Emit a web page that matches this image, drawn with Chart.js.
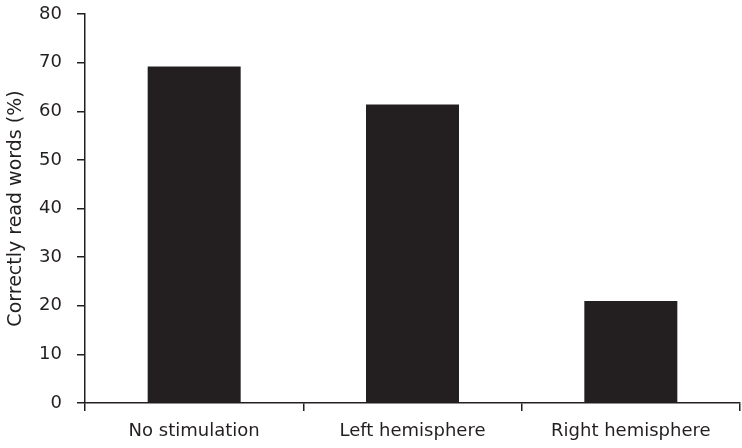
<!DOCTYPE html>
<html>
<head>
<meta charset="utf-8">
<script src="https://cdn.jsdelivr.net/npm/chart.js@4.4.1/dist/chart.umd.min.js"></script>
<style>
  html, body { margin: 0; padding: 0; background: #ffffff; }
  #wrap { width: 742px; height: 448px; }
</style>
</head>
<body>
<div id="wrap"><canvas id="chart" width="742" height="448"></canvas></div>
<script>
// Reading conditions and percentage of words read correctly
const categories = ['No stimulation', 'Left hemisphere', 'Right hemisphere'];
const correctlyRead = [69.2, 61.4, 21.0];
const yTicks = { min: 0, max: 80, step: 10 };
const yTitle = 'Correctly read words (%)';

const ink = '#231f20';
const lineW = 1.5;

new Chart(document.getElementById('chart'), {
  type: 'bar',
  data: {
    labels: categories,
    datasets: [{
      data: correctlyRead,
      backgroundColor: ink,
      borderWidth: 0,
      categoryPercentage: 1.0,
      barPercentage: 0.426
    }]
  },
  options: {
    responsive: false,
    animation: false,
    devicePixelRatio: 1,
    layout: { padding: { top: 14, right: 2, bottom: 5, left: 3 } },
    plugins: { legend: { display: false }, tooltip: { enabled: false } },
    scales: {
      x: {
        offset: true,
        afterFit: (scale) => { scale.height = 40; },
        grid: {
          display: true,
          offset: true,
          drawOnChartArea: false,
          drawTicks: true,
          tickLength: 8,
          color: ink,
          lineWidth: lineW
        },
        border: { display: true, color: ink, width: lineW },
        ticks: {
          color: ink,
          padding: 10,
          maxRotation: 0,
          font: { family: 'DejaVu Sans', size: 18 }
        }
      },
      y: {
        min: yTicks.min,
        max: yTicks.max,
        afterFit: (scale) => {
          scale.width = 82;
          scale.paddingTop = 0;
          scale.paddingBottom = 0;
        },
        grid: {
          display: true,
          drawOnChartArea: false,
          drawTicks: true,
          tickLength: 8,
          color: ink,
          lineWidth: lineW
        },
        border: { display: true, color: ink, width: lineW },
        ticks: {
          stepSize: yTicks.step,
          color: ink,
          padding: 15,
          font: { family: 'DejaVu Sans', size: 18 }
        },
        title: {
          display: true,
          text: yTitle,
          color: ink,
          padding: { top: 2, bottom: 12 },
          font: { family: 'DejaVu Sans', size: 19 }
        }
      }
    }
  }
});
</script>
</body>
</html>
